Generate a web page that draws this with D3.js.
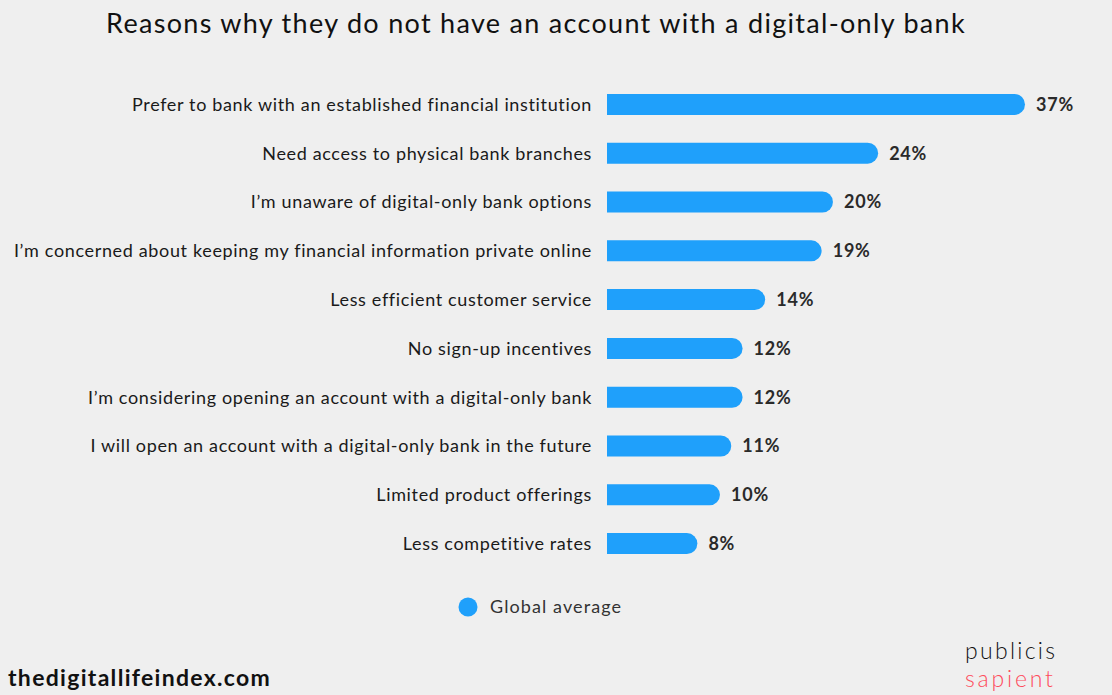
<!DOCTYPE html>
<html>
<head>
<meta charset="utf-8">
<script src="https://cdn.jsdelivr.net/npm/d3@7"></script>
<style>
  html, body { margin: 0; padding: 0; background: #efefef; }
  svg { display: block; font-family: "Lato", "Noto Sans", sans-serif; }
</style>
</head>
<body>
<svg id="chart" width="1112" height="695"></svg>
<script>
// Reasons for not holding a digital-only bank account (global average, %)
const categories = [
  "Prefer to bank with an established financial institution",
  "Need access to physical bank branches",
  "I\u2019m unaware of digital-only bank options",
  "I\u2019m concerned about keeping my financial information private online",
  "Less efficient customer service",
  "No sign-up incentives",
  "I\u2019m considering opening an account with a digital-only bank",
  "I will open an account with a digital-only bank in the future",
  "Limited product offerings",
  "Less competitive rates"
];
const values = [37, 24, 20, 19, 14, 12, 12, 11, 10, 8];
const seriesName = "Global average";
const titleText = "Reasons why they do not have an account with a digital-only bank";

const svg = d3.select("#chart");
const W = 1112, H = 695;
const barColor = "#1fa0fb";

svg.append("rect").attr("width", W).attr("height", H).attr("fill", "#efefef");

// Title
svg.append("text")
  .attr("x", 536).attr("y", 33)
  .attr("text-anchor", "middle")
  .attr("font-size", 27)
  .attr("letter-spacing", 1.3)
  .attr("fill", "#111")
  .text(titleText);

// Scales
const x = d3.scaleLinear().domain([0, 37]).range([607, 1025]);
const y = d3.scaleBand().domain(categories).range([80, 568]).paddingInner(0.57).paddingOuter(0.285);

const barH = y.bandwidth();
const r = barH / 2;

// Bars: flat left edge, rounded right end
const g = svg.append("g");
categories.forEach((c, i) => {
  const x0 = x(0), x1 = x(values[i]), y0 = y(c), y1 = y0 + barH;
  const p = d3.path();
  p.moveTo(x0, y0);
  p.lineTo(x1 - r, y0);
  p.arc(x1 - r, y0 + r, r, -Math.PI / 2, Math.PI / 2);
  p.lineTo(x0, y1);
  p.closePath();
  g.append("path").attr("d", p.toString()).attr("fill", barColor);
});

// Category labels
svg.append("g").selectAll("text")
  .data(categories)
  .join("text")
  .attr("x", 592)
  .attr("y", d => y(d) + barH / 2)
  .attr("dy", "0.35em")
  .attr("text-anchor", "end")
  .attr("font-size", 18)
  .attr("letter-spacing", 0.65)
  .attr("fill", "#1a1a1a")
  .text(d => d);

// Value labels
svg.append("g").selectAll("text")
  .data(values)
  .join("text")
  .attr("x", d => x(d) + 11)
  .attr("y", (d, i) => y(categories[i]) + barH / 2)
  .attr("dy", "0.35em")
  .attr("font-size", 18)
  .attr("letter-spacing", 0.8)
  .attr("font-weight", "bold")
  .attr("fill", "#2a2a2a")
  .text(d => d + "%");

// Legend
svg.append("circle").attr("cx", 468).attr("cy", 607).attr("r", 9.5).attr("fill", barColor);
svg.append("text")
  .attr("x", 490).attr("y", 607).attr("dy", "0.35em")
  .attr("font-size", 18).attr("letter-spacing", 1.1).attr("fill", "#333")
  .text(seriesName);

// Footer
svg.append("text")
  .attr("x", 8).attr("y", 686)
  .attr("font-size", 23).attr("letter-spacing", 1.3).attr("font-weight", "bold").attr("fill", "#111")
  .text("thedigitallifeindex.com");

svg.append("text")
  .attr("x", 965).attr("y", 659)
  .attr("font-size", 23).attr("letter-spacing", 2.3).attr("font-weight", 300).attr("fill", "#111")
  .text("publicis");
svg.append("text")
  .attr("x", 965).attr("y", 687)
  .attr("font-size", 23).attr("letter-spacing", 2.8).attr("font-weight", 300).attr("fill", "#fe4c5c")
  .text("sapient");
</script>
</body>
</html>
